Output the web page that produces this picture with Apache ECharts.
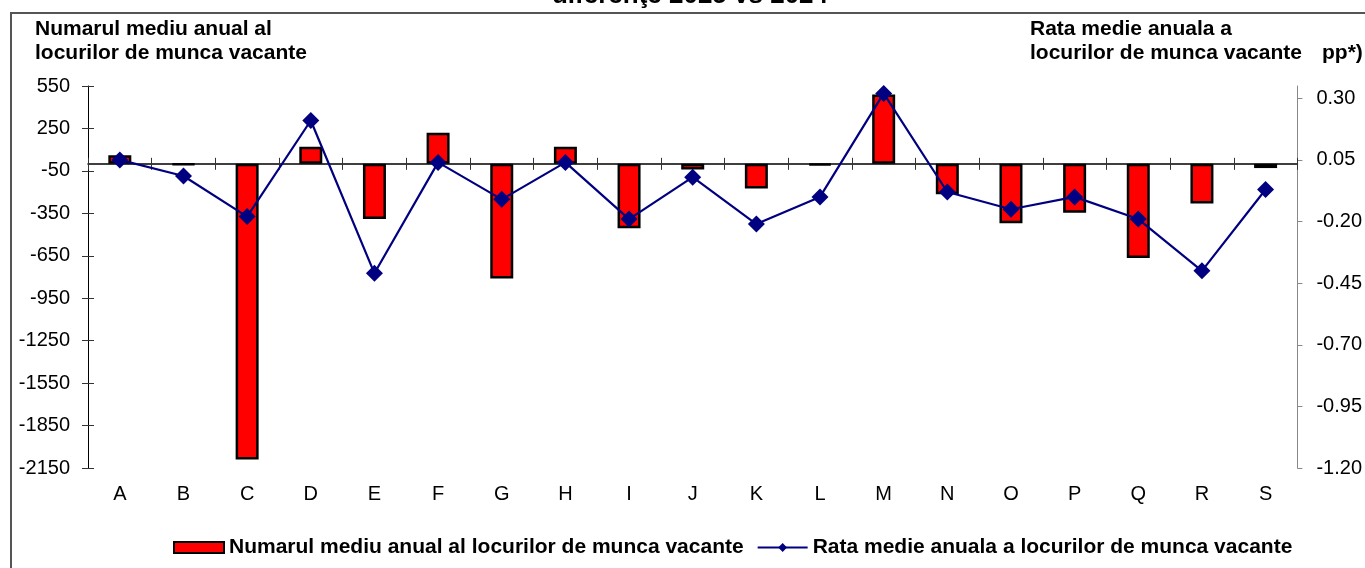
<!DOCTYPE html>
<html>
<head>
<meta charset="utf-8">
<script src="https://cdn.jsdelivr.net/npm/echarts@6/dist/echarts.min.js"></script>
<style>
  html, body { margin: 0; padding: 0; background: #fff; }
  #chart { width: 1365px; height: 568px; }
</style>
</head>
<body>
<div id="chart"></div>
<script>
// activitati CAEN
const categories = ['A', 'B', 'C', 'D', 'E', 'F', 'G', 'H', 'I', 'J', 'K', 'L', 'M', 'N', 'O', 'P', 'Q', 'R', 'S'];
// numarul mediu anual al locurilor de munca vacante (diferenta)
const numarLocuri = [60, -5, -2090, 120, -390, 220, -810, 120, -455, -40, -175, -10, 490, -215, -420, -345, -665, -280, -30];
// rata medie anuala (pp)
const rataLocuri = [0.05, -0.015, -0.18, 0.21, -0.41, 0.04, -0.11, 0.04, -0.19, -0.02, -0.21, -0.10, 0.32, -0.08, -0.15, -0.10, -0.19, -0.40, -0.07];
// etichete axe
const leftTicks = [-2150, -1850, -1550, -1250, -950, -650, -350, -50, 250, 550];
const rightTicks = [-1.2, -0.95, -0.7, -0.45, -0.2, 0.05, 0.3];

const FONT = 'Arial, "Liberation Sans", sans-serif';
const serieBar = 'Numarul mediu anual al locurilor de munca vacante';
const serieLine = 'Rata medie anuala a locurilor de munca vacante';

const chart = echarts.init(document.getElementById('chart'));

const option = {
  animation: false,
  textStyle: { fontFamily: FONT, color: '#000' },
  grid: { left: 88, right: 64, top: 86, bottom: 100, containLabel: false },
  graphic: [
    {
      type: 'rect', silent: true, z: -10,
      shape: { x: 11, y: 13, width: 1400, height: 600 },
      style: { fill: 'none', stroke: '#555', lineWidth: 2 }
    },
    {
      type: 'text', x: 690, y: 9,
      style: { text: 'diferenţe 2025 vs 2024', fontFamily: FONT, fontSize: 26, fontWeight: 'bold', fill: '#000', align: 'center', verticalAlign: 'bottom' }
    },
    {
      type: 'text', x: 35, y: 17,
      style: { text: 'Numarul mediu anual al\nlocurilor de munca vacante', fontFamily: FONT, fontSize: 21, fontWeight: 'bold', lineHeight: 24, fill: '#000', align: 'left', verticalAlign: 'top' }
    },
    {
      type: 'text', x: 1030, y: 17,
      style: { text: 'Rata medie anuala a\nlocurilor de munca vacante', fontFamily: FONT, fontSize: 21, fontWeight: 'bold', lineHeight: 24, fill: '#000', align: 'left', verticalAlign: 'top' }
    },
    {
      type: 'text', x: 1322, y: 41,
      style: { text: 'pp*)', fontFamily: FONT, fontSize: 21, fontWeight: 'bold', lineHeight: 24, fill: '#000', align: 'left', verticalAlign: 'top' }
    }
  ],
  legend: {
    left: 168,
    top: 532,
    itemWidth: 50,
    itemHeight: 11,
    itemGap: 13,
    textStyle: { fontFamily: FONT, fontSize: 21, fontWeight: 'bold', color: '#000' },
    data: [
      { name: serieBar, icon: 'rect' },
      { name: serieLine }
    ]
  },
  xAxis: [
    {
      // etichetele jos
      type: 'category',
      data: categories,
      position: 'bottom',
      axisLine: { show: false, onZero: false },
      axisTick: { show: false },
      axisLabel: { fontSize: 20, margin: 16, color: '#000' }
    },
    {
      // linia de zero + ticks in jos
      type: 'category',
      data: categories,
      position: 'bottom',
      axisLine: { show: true, onZero: true, onZeroAxisIndex: 0, lineStyle: { color: '#000', width: 1.5 } },
      axisTick: { show: true, length: 6, lineStyle: { color: '#333' } },
      axisLabel: { show: false }
    },
    {
      // ticks in sus
      type: 'category',
      data: categories,
      position: 'bottom',
      axisLine: { show: false, onZero: true, onZeroAxisIndex: 0 },
      axisTick: { show: true, inside: true, length: 6, lineStyle: { color: '#333' } },
      axisLabel: { show: false }
    }
  ],
  yAxis: [
    {
      type: 'value',
      position: 'left',
      min: -2150,
      max: 550,
      axisLine: { show: true, onZero: false, lineStyle: { color: '#000', width: 1 } },
      axisTick: { show: true, length: 6, customValues: leftTicks, lineStyle: { color: '#333' } },
      axisLabel: { fontSize: 20, margin: 18, color: '#000', customValues: leftTicks, formatter: v => String(v) },
      splitLine: { show: false }
    },
    {
      type: 'value',
      position: 'right',
      min: -1.2,
      max: 0.35,
      axisLine: { show: true, onZero: false, lineStyle: { color: '#888', width: 1 } },
      axisTick: { show: true, length: 5, customValues: rightTicks, lineStyle: { color: '#888' } },
      axisLabel: {
        fontSize: 20, margin: 19, color: '#000', customValues: rightTicks,
        formatter: v => Number(v).toFixed(2)
      },
      splitLine: { show: false }
    },
    {
      // ticks spre interior pe axa stanga
      type: 'value',
      position: 'left',
      min: -2150,
      max: 550,
      axisLine: { show: false, onZero: false },
      axisTick: { show: true, inside: true, length: 6, customValues: leftTicks, lineStyle: { color: '#333' } },
      axisLabel: { show: false },
      splitLine: { show: false }
    }
  ],
  series: [
    {
      name: serieBar,
      type: 'bar',
      xAxisIndex: 0,
      yAxisIndex: 0,
      barWidth: 23,
      data: numarLocuri,
      itemStyle: { color: '#ff0000', borderColor: '#000', borderWidth: 2.5 }
    },
    {
      name: serieLine,
      type: 'line',
      xAxisIndex: 0,
      yAxisIndex: 1,
      data: rataLocuri,
      symbol: 'diamond',
      symbolSize: 17,
      itemStyle: { color: '#000080' },
      lineStyle: { color: '#000080', width: 2.2 },
      z: 5
    }
  ]
};

chart.setOption(option);
</script>
</body>
</html>
